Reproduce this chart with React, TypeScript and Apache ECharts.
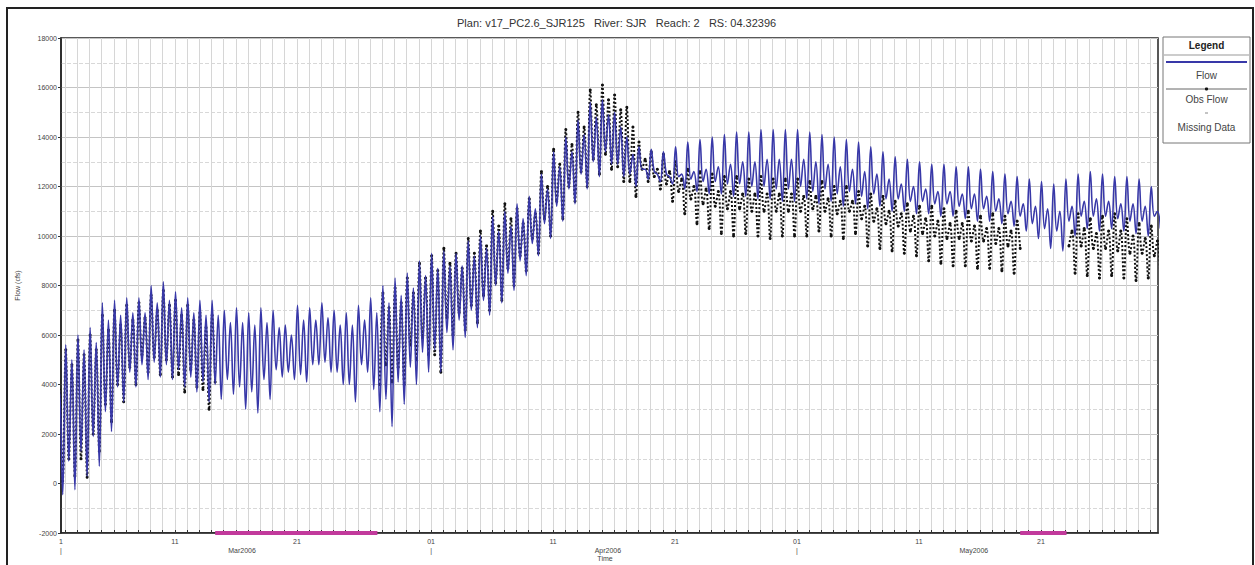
import React, { useEffect, useRef } from "react";
import * as echarts from "echarts";

// ---------- data (days counted from Mar 1 00:00, 2006) ----------
const chartTitle = "Plan: v17_PC2.6_SJR125   River: SJR   Reach: 2   RS: 04.32396";
const xAxisTitle = "Time";
const axisStartDay = 0.66;
const axisEndDay = 90.6;
const dayTickDays = Array.from({ length: 90 }, (_, i) => i + 1);
// bottom labels: day numbers, month boundaries ("|") and month names
const xLabelDays = [0.66, 10, 15.5, 20, 31, 41, 45.5, 51, 61, 71, 75.5, 81];
const xLabels = ["1\n|", "11", "\nMar2006", "21", "01\n|", "11", "\nApr2006", "21", "01\n|", "11", "\nMay2006", "21"];
const yTicks = { min: -2000, max: 18000, step: 2000 };

// Tidal extremes per day (mixed semidiurnal): higher high, higher low, lower high, lower low
const tideOffsets = { hh: 0.05, hl: 0.3, lh: 0.55, ll: 0.8 };

// ---- computed Flow (cfs) ----
const flowHH = [
  4300, 5600, 6000, 6300, 7300, 7400, 7500, 7500, 8000, 8150,
  7750, 7500, 7400, 7400, 7000, 7100, 6900, 7100, 7000, 6400,
  7200, 7100, 7300, 7000, 6900, 7200, 7500, 8000, 8300, 8500,
  9000, 9300, 9400, 9300, 9800, 10000, 10800, 11000, 11300, 11600,
  12500, 13400, 14000, 14700, 15400, 15500, 15000, 14000, 13600, 13500,
  13400, 13600, 13800, 13900, 14000, 14100, 14200, 14200, 14300, 14300,
  14300, 14300, 14200, 14100, 14000, 13900, 13800, 13600, 13400, 13200,
  13100, 13000, 12900, 12900, 12800, 12800, 12700, 12600, 12500, 12400,
  12300, 12200, 12100, 12300, 12500, 12600, 12500, 12400, 12400, 12300,
  12000,
];
const flowHL = [
  600, 900, 1300, 1900, 2900, 3900, 4500, 4800, 4900, 4800,
  4600, 4300, 4100, 4000, 4200, 3900, 3700, 4200, 4600, 4500,
  4400, 4800, 4900, 4500, 4000, 4800, 3800, 3400, 4100, 4700,
  5300, 5400, 6100, 6600, 7000, 7400, 8000, 8500, 9000, 9700,
  10500, 11200, 11900, 12500, 13000, 13400, 12900, 12500, 12700, 12600,
  12500, 12400, 12300, 12200, 12200, 12100, 12100, 12000, 12000, 11900,
  11900, 12000, 11800, 11900, 11700, 11800, 11600, 11700, 11500, 11500,
  11400, 11400, 11300, 11300, 11200, 11100, 11100, 11000, 10900, 10800,
  10500, 10300, 10200, 10600, 10800, 10800, 10800, 10700, 10600, 10600,
  10800,
];
const flowLH = [
  3800, 5000, 5400, 5700, 6600, 6800, 6900, 6900, 7300, 7400,
  7100, 6900, 6800, 6800, 6500, 6500, 6400, 6500, 6300, 6000,
  6600, 6600, 6700, 6400, 6400, 6600, 6900, 7300, 7600, 7900,
  8400, 8700, 8800, 8800, 9200, 9500, 10200, 10400, 10700, 11100,
  11900, 12800, 13400, 14100, 14800, 14900, 14400, 13300, 12700, 12500,
  12400, 12500, 12600, 12700, 12800, 12900, 13000, 13000, 13100, 13100,
  13100, 13100, 13000, 12900, 12800, 12700, 12600, 12500, 12300, 12100,
  12000, 11900, 11800, 11800, 11700, 11700, 11600, 11500, 11400, 11300,
  11200, 11100, 11000, 11200, 11400, 11500, 11400, 11300, 11300, 11200,
  11000,
];
const flowLL = [
  -450, -250, 300, 700, 2100, 3300, 3900, 4200, 4300, 4200,
  3900, 3700, 3300, 3400, 3600, 3000, 2850, 3400, 4300, 4200,
  4100, 4800, 4500, 4000, 3300, 4500, 2900, 2300, 3200, 4000,
  4500, 4500, 5400, 5900, 6300, 6800, 7300, 7800, 8400, 9200,
  9900, 10600, 11300, 11900, 12400, 12900, 12400, 12000, 12300, 12200,
  12100, 11900, 11800, 11700, 11700, 11600, 11600, 11500, 11500, 11400,
  11400, 11500, 11300, 11400, 11200, 11300, 11100, 11200, 11000, 11000,
  10900, 10900, 10800, 10800, 10700, 10600, 10600, 10500, 10400, 10200,
  9900, 9500, 9400, 10000, 10300, 10200, 10300, 10200, 10100, 10000,
  10300,
];

// ---- observed flow (cfs), null = missing ----
const _ = null;
const obsHH = [
  4300, 5400, 5800, 6000, 6800, 7000, 7200, 7300, 7600, 7800,
  7400, 7200, 6900, 6800, _, _, _, _, _, _,
  _, _, _, _, _, _, _, 7700, 7900, 8300,
  8900, 9200, 9500, 9300, 9900, 10200, 11000, 11300, 11100, 11500,
  12600, 13500, 14300, 15000, 15900, 16100, 15700, 15200, 13800, 13400,
  13300, 13000, 12700, 12600, 12500, 12400, 12400, 12300, 12400, 12300,
  12300, 12300, 12200, 12200, 12000, 12000, 11800, 11700, 11600, 11400,
  11300, 11200, 11200, 11100, 11000, 11000, 10800, 10900, 10800, 10600,
  _, _, _, _, 10900, 10700, 10800, 10900, 10700, 10500,
  10400,
];
const obsHL = [
  800, 1000, 1000, 2000, 3200, 4000, 4700, 5200, 5100, 5000,
  4400, 4600, 3800, 4100, _, _, _, _, _, _,
  _, _, _, _, _, _, _, 4800, 4700, 5600,
  5900, 5200, 6700, 6900, 7200, 7600, 8100, 8700, 9200, 9900,
  10700, 11400, 12000, 12600, 13100, 13300, 12800, 12200, 12700, 12400,
  12100, 11800, 11500, 11300, 11200, 11100, 11100, 11000, 11000, 11000,
  11000, 11000, 11100, 11000, 10900, 11000, 10700, 10600, 10500, 10400,
  10200, 10100, 10000, 9900, 9900, 9800, 9800, 9700, 9600, 9500,
  _, _, _, 9600, 9600, 9500, 9500, 9400, 9300, 9300,
  9200,
];
const obsLH = [
  3800, 4800, 5200, 5400, 6200, 6400, 6600, 6700, 7000, 7200,
  6800, 6600, 6300, _, _, _, _, _, _, _,
  _, _, _, _, _, _, _, 7100, 7300, 7700,
  8300, 8600, 8900, 8700, 9300, 9600, 10400, 10700, 10500, 10900,
  12000, 12900, 13700, 14400, 15300, 15500, 15100, 14400, 13100, 12700,
  12600, 12300, 12000, 11900, 11800, 11800, 11700, 11700, 11700, 11700,
  11700, 11600, 11600, 11500, 11400, 11400, 11200, 11100, 11000, 10900,
  10800, 10700, 10600, 10500, 10500, 10400, 10300, 10300, 10200, _,
  _, _, _, 10200, 10300, 10100, 10200, 10200, 10000, 9900,
  9800,
];
const obsLL = [
  100, 300, 250, 1300, 2500, 3300, 4000, 4500, 4400, 4300,
  3700, 3900, 3000, _, _, _, _, _, _, _,
  _, _, _, _, _, _, 4000, 4100, 4000, 5000,
  5200, 4500, 6000, 6200, 6500, 7000, 7400, 8000, 8600, 9300,
  10000, 10700, 11400, 12000, 12500, 12700, 12200, 11600, 12200, 11900,
  11400, 10900, 10500, 10300, 10100, 10000, 10100, 10000, 9900, 10000,
  10000, 10000, 10200, 10000, 9900, 10100, 9600, 9500, 9400, 9300,
  9200, 9000, 8900, 8800, 8800, 8700, 8700, 8600, 8500, _,
  _, _, _, 8500, 8400, 8300, 8400, 8300, 8200, 8300,
  8200,
];

const missingRanges = [
  [13.3, 26.6],
  [79.3, 83.1],
];

function buildTide(
  hh: (number | null)[],
  hl: (number | null)[],
  lh: (number | null)[],
  ll: (number | null)[]
) {
  const out: any[] = [];
  hh.forEach((v, i) => {
    out.push([i + tideOffsets.hh, v]);
    out.push([i + tideOffsets.hl, hl[i]]);
    out.push([i + tideOffsets.lh, lh[i]]);
    out.push([i + tideOffsets.ll, ll[i]]);
  });
  return out;
}

const BLUE = "#3838a8";
const MAGENTA = "#c23a9c";
const LABEL = "#444444";

export default function App() {
  const ref = useRef<HTMLDivElement>(null);
  useEffect(() => {
    if (!ref.current) return;
    const chart = echarts.init(ref.current, undefined, { renderer: "svg" });
    const font = "Liberation Sans, Arial, sans-serif";
    const flowData = buildTide(flowHH, flowHL, flowLH, flowLL);
    const obsData = buildTide(obsHH, obsHL, obsLH, obsLL);

    const missingSeries = missingRanges.map((r) => ({
      type: "line",
      name: "Missing Data",
      data: [
        [r[0], yTicks.min],
        [r[1], yTicks.min],
      ],
      showSymbol: false,
      clip: false,
      lineStyle: { color: MAGENTA, width: 4 },
      z: 10,
      silent: true,
    }));

    const lx = 1163;
    const lw = 87;
    const cx = lx + lw / 2;

    chart.setOption({
      animation: false,
      backgroundColor: "#ffffff",
      title: {
        text: chartTitle,
        left: 452,
        top: 12,
        textStyle: { fontSize: 11, fontWeight: "normal", color: "#333", fontFamily: font },
      },
      grid: {
        left: 61,
        top: 38,
        right: 97,
        bottom: 32,
        show: true,
        borderColor: "#222",
        borderWidth: 1.5,
        containLabel: false,
        outerBoundsMode: "none",
      },
      xAxis: {
        type: "value",
        min: axisStartDay,
        max: axisEndDay,
        position: "bottom",
        axisLine: { show: true, onZero: false, lineStyle: { color: "#222", width: 1.5 } },
        axisTick: { show: true, inside: true, length: 3, customValues: dayTickDays, lineStyle: { color: "#333" } },
        axisLabel: {
          customValues: xLabelDays,
          formatter: (v: number) => {
            const k = xLabelDays.findIndex((d) => Math.abs(d - v) < 1e-6);
            return k >= 0 ? xLabels[k] : "";
          },
          fontSize: 7,
          lineHeight: 9,
          color: LABEL,
          margin: 4,
          fontFamily: font,
        },
        splitLine: { show: true, lineStyle: { color: "#d6d6d6", width: 1 } },
      },
      yAxis: {
        type: "value",
        min: yTicks.min,
        max: yTicks.max,
        interval: yTicks.step,
        axisLine: { show: true, lineStyle: { color: "#222", width: 1.5 } },
        axisTick: { show: true, length: 3, lineStyle: { color: "#333" } },
        axisLabel: { fontSize: 7, color: LABEL, margin: 4, fontFamily: font, formatter: (v: number) => String(v) },
        splitLine: { show: true, lineStyle: { color: "#c4c4c4", width: 1 } },
        minorTick: { show: false, splitNumber: 2 },
        minorSplitLine: { show: true, lineStyle: { color: "#d8d8d8", type: "dashed", width: 1 } },
        name: "Flow (cfs)",
        nameLocation: "middle",
        nameGap: 40,
        nameTextStyle: { fontSize: 7, color: LABEL, fontFamily: font },
      },
      series: [
        {
          type: "line",
          name: "Obs Flow",
          data: obsData,
          connectNulls: false,
          smooth: 0.4,
          showSymbol: true,
          symbol: "circle",
          symbolSize: 3,
          itemStyle: { color: "#111" },
          lineStyle: { color: "#111", width: 2, type: [2, 2] },
          z: 2,
          silent: true,
        },
        {
          type: "line",
          name: "Flow",
          data: flowData,
          smooth: 0.4,
          showSymbol: false,
          lineStyle: { color: BLUE, width: 1.6 },
          z: 3,
          silent: true,
        },
        ...missingSeries,
      ],
      graphic: [
        {
          type: "rect",
          shape: { x: 7, y: 8, width: 1246, height: 570 },
          style: { fill: "none", stroke: "#222", lineWidth: 2 },
          silent: true,
          z: 100,
        },
        {
          type: "text",
          x: 605,
          y: 558.5,
          z: 100,
          style: { text: xAxisTitle, font: `7px ${font}`, fill: LABEL, align: "center", verticalAlign: "middle" },
        },
        {
          type: "group",
          z: 100,
          children: [
            { type: "rect", shape: { x: lx, y: 37, width: lw, height: 106 }, style: { fill: "#fff", stroke: "#777", lineWidth: 1 } },
            { type: "text", x: cx, y: 45, style: { text: "Legend", font: `bold 10px ${font}`, fill: "#222", align: "center", verticalAlign: "middle" } },
            { type: "line", shape: { x1: lx + 1, y1: 55, x2: lx + lw - 1, y2: 55 }, style: { stroke: "#999", lineWidth: 1 } },
            { type: "line", shape: { x1: lx + 3, y1: 62, x2: lx + lw - 3, y2: 62 }, style: { stroke: BLUE, lineWidth: 2 } },
            { type: "text", x: cx, y: 75, style: { text: "Flow", font: `10px ${font}`, fill: "#444", align: "center", verticalAlign: "middle" } },
            { type: "line", shape: { x1: lx + 3, y1: 89, x2: lx + lw - 3, y2: 89 }, style: { stroke: "#666", lineWidth: 1 } },
            { type: "circle", shape: { cx: cx, cy: 89, r: 1.6 }, style: { fill: "#111" } },
            { type: "text", x: cx, y: 99, style: { text: "Obs Flow", font: `10px ${font}`, fill: "#444", align: "center", verticalAlign: "middle" } },
            { type: "line", shape: { x1: cx - 1.5, y1: 113, x2: cx + 1.5, y2: 113 }, style: { stroke: "#888", lineWidth: 1 } },
            { type: "text", x: cx, y: 127, style: { text: "Missing Data", font: `10px ${font}`, fill: "#444", align: "center", verticalAlign: "middle" } },
          ],
        },
      ],
    });
    return () => chart.dispose();
  }, []);
  return (
    <div
      ref={ref}
      style={{ position: "absolute", left: 0, top: 0, width: 1255, height: 565, background: "#fff" }}
    />
  );
}
